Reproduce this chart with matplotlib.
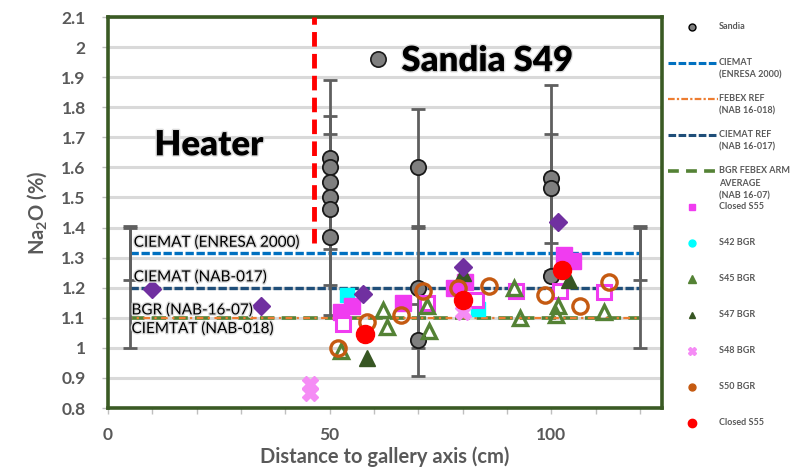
import matplotlib
matplotlib.use('Agg')
import matplotlib.pyplot as plt
from matplotlib.lines import Line2D
import matplotlib.patheffects as pe

plt.rcParams['font.family'] = ['Lato', 'DejaVu Sans']

GRAY_TXT = '#595959'

# Sandia S49 measurements (x = distance, y = Na2O %, err = std)
sandia_x = [50, 50, 50, 50, 50, 50, 70, 70, 70, 100, 100, 100]
sandia_y = [1.63, 1.60, 1.55, 1.50, 1.46, 1.37, 1.60, 1.20, 1.025, 1.565, 1.53, 1.24]
sandia_err = [0, 0, 0.22, 0.39, 0.25, 0, 0.195, 0.2, 0.12, 0.31, 0.18, 0]

# reference levels, drawn between two distances
ref_x = [5, 120]
enresa_y = 1.315
enresa_err = 0.09
nab017_y = 1.20
nab017_err = 0.20
nab018_y = 1.10
bgr_avg_y = 1.10

heater_x = 46.5
heater_y = [1.35, 2.1]

# BGR / other series
diam_x = [10, 34.5, 57.5, 80, 101.5]
diam_y = [1.195, 1.14, 1.18, 1.27, 1.42]

closed_sq_x = [52.5, 55, 66.5, 78, 80.5, 103, 105]
closed_sq_y = [1.12, 1.14, 1.15, 1.20, 1.22, 1.31, 1.29]

open_sq_x = [53, 72, 83, 92, 102, 112]
open_sq_y = [1.08, 1.15, 1.16, 1.19, 1.19, 1.185]

s42_x = [54, 83.5]
s42_y = [1.175, 1.13]

s45_x = [52.5, 62, 63, 72, 72.5, 91.5, 93, 101, 101.5, 112]
s45_y = [0.99, 1.125, 1.07, 1.14, 1.055, 1.20, 1.10, 1.11, 1.14, 1.12]

s47_x = [58.5, 80, 104]
s47_y = [0.965, 1.25, 1.225]

s48_x = [45.5, 45.5, 80]
s48_y = [0.88, 0.85, 1.12]

s50_x = [52, 58.5, 66, 71, 79, 86, 98.5, 106.5, 113]
s50_y = [1.0, 1.085, 1.11, 1.19, 1.20, 1.205, 1.175, 1.14, 1.22]

s55_x = [58, 80, 102.5]
s55_y = [1.045, 1.16, 1.26]

fig = plt.figure(figsize=(7.96, 4.72), dpi=100)
ax = fig.add_axes([108 / 796, 64 / 472, 554 / 796, 391 / 472])

ax.set_xlim(0, 125)
ax.set_ylim(0.8, 2.1)
ax.set_yticks([round(0.8 + 0.1 * i, 1) for i in range(14)])
ax.set_yticklabels(['0.8', '0.9', '1', '1.1', '1.2', '1.3', '1.4', '1.5', '1.6',
                    '1.7', '1.8', '1.9', '2', '2.1'])
ax.set_xticks([0, 50, 100])
ax.set_xticks(range(0, 130, 10), minor=True)
ax.grid(axis='y', color='#D9D9D9', lw=2.2, zorder=0)
ax.set_axisbelow(True)
for s in ax.spines.values():
    s.set_color('#3A5A24')
    s.set_linewidth(2.6)
ax.tick_params(axis='both', which='both', color='#BFBFBF', length=4, width=1)
ax.tick_params(axis='y', labelsize=12.5, pad=12, labelcolor=GRAY_TXT)
ax.tick_params(axis='x', labelsize=12.5, pad=10, labelcolor=GRAY_TXT)
for lab in ax.get_xticklabels() + ax.get_yticklabels():
    lab.set_fontweight('bold')
ax.set_xlabel('Distance to gallery axis (cm)', fontsize=14.5, fontweight='bold',
              color=GRAY_TXT, labelpad=2)
ax.set_ylabel('Na$_\\mathregular{2}$O (%)', fontsize=14.5, fontweight='bold',
              color=GRAY_TXT, labelpad=9)

# reference lines
ax.plot(ref_x, [enresa_y] * 2, color='#0070C0', lw=2.4, ls=(0, (2.5, 0.8)), zorder=2)
ax.plot(ref_x, [nab017_y] * 2, color='#1F4E79', lw=2.4, ls=(0, (2.5, 0.8)), zorder=2)
ax.plot(ref_x, [bgr_avg_y] * 2, color='#548235', lw=2.6, ls=(0, (4, 2)), zorder=2)
ax.plot(ref_x, [nab018_y] * 2, color='#ED7D31', lw=1.6, ls=(2, (3, 2, 1, 2)), zorder=2)
ax.errorbar(ref_x, [enresa_y] * 2, yerr=enresa_err, fmt='none', ecolor='#5F5F5F',
            elinewidth=2, capsize=5, capthick=2, zorder=2)
ax.errorbar(ref_x, [nab017_y] * 2, yerr=nab017_err, fmt='none', ecolor='#5F5F5F',
            elinewidth=2, capsize=5, capthick=2, zorder=2)

# heater edge
ax.plot([heater_x] * 2, heater_y, color='#FF0000', lw=3.5, ls=(0, (3, 1.5)), zorder=3)

# Sandia
ex = [x for x, e in zip(sandia_x, sandia_err) if e > 0]
ey = [y for y, e in zip(sandia_y, sandia_err) if e > 0]
ee = [e for e in sandia_err if e > 0]
ax.errorbar(ex, ey, yerr=ee, fmt='none', ecolor='#5F5F5F', elinewidth=2,
            capsize=5, capthick=2, zorder=3)
ax.plot(sandia_x, sandia_y, 'o', ms=11, mfc='#7F7F7F', mec='#1A1A1A', mew=1.3,
        ls='none', zorder=4)

ax.plot(s42_x, s42_y, 's', ms=10, color='#00FFFF', ls='none', zorder=4)
ax.plot(closed_sq_x, closed_sq_y, 's', ms=11, color='#F03CF0', ls='none', zorder=5)
ax.plot(open_sq_x, open_sq_y, 's', ms=10, mfc='white', mec='#F03CF0', mew=2.2,
        ls='none', zorder=5)
ax.plot(s45_x, s45_y, '^', ms=10, mfc='none', mec='#548235', mew=2.4, ls='none', zorder=6)
ax.plot(s47_x, s47_y, '^', ms=11, color='#375623', ls='none', zorder=6)
ax.plot(s48_x, s48_y, 'X', ms=12, color='#F58CF5', ls='none', zorder=6)
ax.plot(s50_x, s50_y, 'o', ms=11, mfc='none', mec='#C55A11', mew=2.4, ls='none', zorder=7)
ax.plot(s55_x, s55_y, 'o', ms=13, color='#FF0000', ls='none', zorder=8)
ax.plot(diam_x, diam_y, 'D', ms=9, color='#7030A0', ls='none', zorder=8)

# annotations
glow = [pe.withStroke(linewidth=2, foreground='#DDDDDD')]
for txt, tx, ty in [('CIEMAT (ENRESA 2000)', 5.8, 1.35),
                    ('CIEMAT (NAB-017)', 5.8, 1.235),
                    ('BGR (NAB-16-07)', 5.3, 1.125),
                    ('CIEMTAT (NAB-018)', 5.3, 1.063)]:
    ax.text(tx, ty, txt, fontsize=11, color='black', va='center', ha='left',
            path_effects=glow, zorder=9)
ax.text(22.8, 1.675, 'Heater', fontsize=25, fontweight='heavy', color='black',
        ha='center', va='center', path_effects=glow, zorder=9)
ax.plot([61], [1.96], 'o', ms=11, mfc='#7F7F7F', mec='#1A1A1A', mew=1.2, zorder=9)
ax.text(66.2, 1.955, 'Sandia S49', fontsize=25, fontweight='heavy', color='black',
        ha='left', va='center', path_effects=glow, zorder=9)

# legend (drawn to the right of the plot, Excel style)
W, H = 796, 472
entries = [
    (dict(marker='o', ms=5, mfc='#7F7F7F', mec='black', ls='none'), 'Sandia'),
    (dict(color='#0070C0', lw=2.2, ls=(0, (2.5, 0.8))), 'CIEMAT\n(ENRESA 2000)'),
    (dict(color='#ED7D31', lw=1.6, ls=(0, (3, 1, 1, 1))), 'FEBEX REF\n(NAB 16-018)'),
    (dict(color='#1F4E79', lw=2.2, ls=(0, (2.5, 0.8))), 'CIEMAT REF\n(NAB 16-017)'),
    (dict(color='#548235', lw=2.6, ls=(0, (3, 2))), 'BGR FEBEX ARM\nAVERAGE\n(NAB 16-07)'),
    (dict(marker='s', ms=5, color='#F03CF0', ls='none'), 'Closed S55'),
    (dict(marker='o', ms=5, color='#00FFFF', ls='none'), 'S42 BGR'),
    (dict(marker='^', ms=6, color='#548235', ls='none'), 'S45 BGR'),
    (dict(marker='^', ms=5, color='#375623', ls='none'), 'S47 BGR'),
    (dict(marker='X', ms=6, color='#F58CF5', ls='none'), 'S48 BGR'),
    (dict(marker='o', ms=5, color='#C55A11', ls='none'), 'S50 BGR'),
    (dict(marker='o', ms=6, color='#FF0000', ls='none'), 'Closed S55'),
]
for i, (style, label) in enumerate(entries):
    py = 27 + 36.0 * i
    yf = 1 - py / H
    if style.get('marker'):
        fig.add_artist(Line2D([692 / W], [yf], transform=fig.transFigure, **style))
    else:
        fig.add_artist(Line2D([668 / W, 718 / W], [yf, yf], transform=fig.transFigure, **style))
    fig.text(719 / W, 1 - (py - 5) / H, label, fontsize=6.5, fontweight='bold',
             color=GRAY_TXT, va='top', ha='left', linespacing=1.5)

fig.savefig('out.png', dpi=100)
